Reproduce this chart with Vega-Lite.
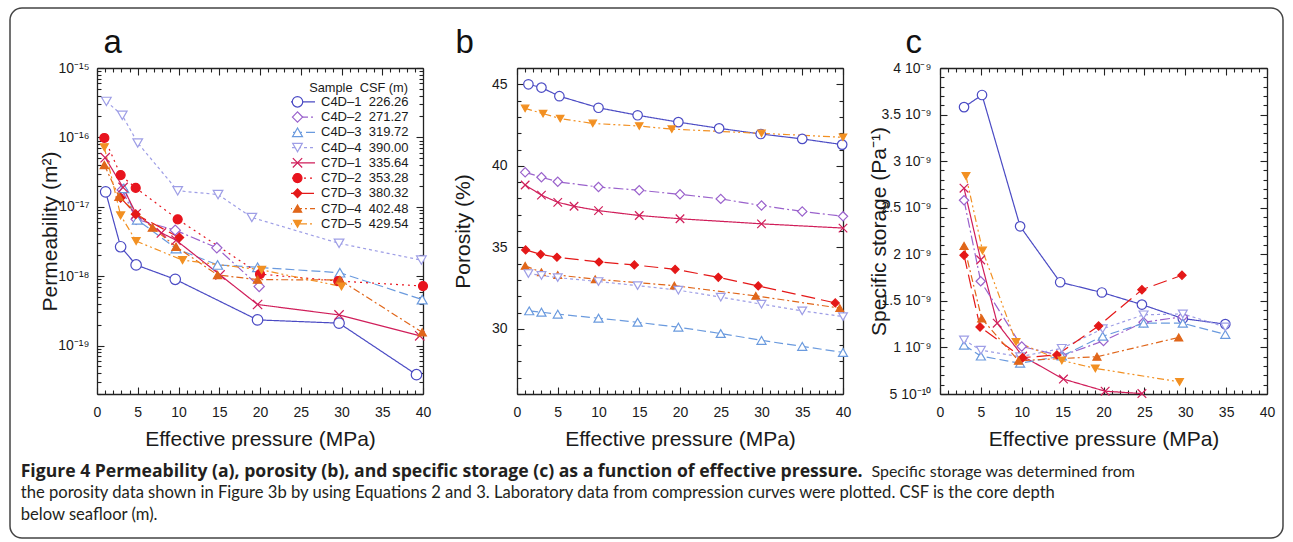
{
  "$schema": "https://vega.github.io/schema/vega-lite/v6.json",
  "width": 1273,
  "height": 530,
  "autosize": {"type": "none"},
  "padding": {"left": 10, "top": 8, "right": 10, "bottom": 4},
  "background": "white",
  "config": {
    "font": "Liberation Sans",
    "view": {"stroke": "#444", "strokeWidth": 1.5, "cornerRadius": 12},
    "axis": {"grid": false, "domainColor": "#222", "tickColor": "#222", "domainWidth": 1.3, "tickWidth": 1.1, "labelColor": "#1a1a1a", "titleColor": "#1a1a1a", "labelFontSize": 14, "titleFontSize": 21, "titleFontWeight": "normal", "labelFlush": false, "labelOverlap": false, "labelBound": false},
    "line": {"strokeWidth": 1.2},
    "point": {"strokeWidth": 1.2, "opacity": 1}
  },
  "datasets": {
    "perm": [
      {"s": "C4D-1", "p": 1.06, "v": 1.64e-17}, {"s": "C4D-1", "p": 2.9, "v": 2.65e-18}, {"s": "C4D-1", "p": 4.8, "v": 1.45e-18}, {"s": "C4D-1", "p": 9.6, "v": 9.0e-19}, {"s": "C4D-1", "p": 19.7, "v": 2.34e-19}, {"s": "C4D-1", "p": 29.7, "v": 2.1e-19}, {"s": "C4D-1", "p": 39.2, "v": 3.8e-20},
      {"s": "C4D-2", "p": 3.1, "v": 1.75e-17}, {"s": "C4D-2", "p": 4.8, "v": 6.6e-18}, {"s": "C4D-2", "p": 9.6, "v": 4.6e-18}, {"s": "C4D-2", "p": 14.7, "v": 2.56e-18}, {"s": "C4D-2", "p": 19.9, "v": 7.1e-19},
      {"s": "C4D-3", "p": 3.3, "v": 1.84e-17}, {"s": "C4D-3", "p": 4.95, "v": 6.5e-18}, {"s": "C4D-3", "p": 9.7, "v": 2.5e-18}, {"s": "C4D-3", "p": 14.8, "v": 1.45e-18}, {"s": "C4D-3", "p": 19.7, "v": 1.34e-18}, {"s": "C4D-3", "p": 29.8, "v": 1.12e-18}, {"s": "C4D-3", "p": 39.9, "v": 4.6e-19},
      {"s": "C4D-4", "p": 1.15, "v": 3.3e-16}, {"s": "C4D-4", "p": 3.1, "v": 2.08e-16}, {"s": "C4D-4", "p": 5.0, "v": 8.3e-17}, {"s": "C4D-4", "p": 9.9, "v": 1.7e-17}, {"s": "C4D-4", "p": 14.85, "v": 1.5e-17}, {"s": "C4D-4", "p": 19.0, "v": 7.0e-18}, {"s": "C4D-4", "p": 29.7, "v": 2.97e-18}, {"s": "C4D-4", "p": 39.8, "v": 1.7e-18},
      {"s": "C7D-1", "p": 1.0, "v": 5.1e-17}, {"s": "C7D-1", "p": 3.2, "v": 1.9e-17}, {"s": "C7D-1", "p": 4.8, "v": 7.9e-18}, {"s": "C7D-1", "p": 7.9, "v": 4.2e-18}, {"s": "C7D-1", "p": 9.7, "v": 3.3e-18}, {"s": "C7D-1", "p": 15.1, "v": 1.04e-18}, {"s": "C7D-1", "p": 19.7, "v": 3.9e-19}, {"s": "C7D-1", "p": 29.7, "v": 2.76e-19}, {"s": "C7D-1", "p": 39.6, "v": 1.38e-19},
      {"s": "C7D-2", "p": 0.9, "v": 9.8e-17}, {"s": "C7D-2", "p": 2.9, "v": 2.86e-17}, {"s": "C7D-2", "p": 4.75, "v": 1.87e-17}, {"s": "C7D-2", "p": 9.9, "v": 6.6e-18}, {"s": "C7D-2", "p": 20.0, "v": 1.07e-18}, {"s": "C7D-2", "p": 29.6, "v": 8.5e-19}, {"s": "C7D-2", "p": 40, "v": 7.2e-19},
      {"s": "C7D-3", "p": 2.9, "v": 1.35e-17}, {"s": "C7D-3", "p": 4.75, "v": 7.8e-18}, {"s": "C7D-3", "p": 10.1, "v": 3.6e-18},
      {"s": "C7D-4", "p": 0.9, "v": 4.0e-17}, {"s": "C7D-4", "p": 2.7, "v": 1.39e-17}, {"s": "C7D-4", "p": 6.8, "v": 5.0e-18}, {"s": "C7D-4", "p": 9.7, "v": 2.65e-18}, {"s": "C7D-4", "p": 14.8, "v": 1.04e-18}, {"s": "C7D-4", "p": 19.7, "v": 8.9e-19}, {"s": "C7D-4", "p": 29.8, "v": 8.8e-19}, {"s": "C7D-4", "p": 39.9, "v": 1.55e-19},
      {"s": "C7D-5", "p": 0.9, "v": 7.2e-17}, {"s": "C7D-5", "p": 2.9, "v": 7.5e-18}, {"s": "C7D-5", "p": 4.8, "v": 3.2e-18}, {"s": "C7D-5", "p": 10.5, "v": 1.7e-18}, {"s": "C7D-5", "p": 20.2, "v": 1.23e-18}, {"s": "C7D-5", "p": 30, "v": 7.1e-19}
    ],
    "poro": [
      {"s": "C4D-1", "p": 1.4, "v": 45.0}, {"s": "C4D-1", "p": 3.0, "v": 44.8}, {"s": "C4D-1", "p": 5.2, "v": 44.27}, {"s": "C4D-1", "p": 10, "v": 43.56}, {"s": "C4D-1", "p": 14.8, "v": 43.1}, {"s": "C4D-1", "p": 19.8, "v": 42.68}, {"s": "C4D-1", "p": 24.8, "v": 42.3}, {"s": "C4D-1", "p": 29.9, "v": 41.95}, {"s": "C4D-1", "p": 35, "v": 41.65}, {"s": "C4D-1", "p": 39.9, "v": 41.3},
      {"s": "C7D-5", "p": 1, "v": 43.52}, {"s": "C7D-5", "p": 3.2, "v": 43.2}, {"s": "C7D-5", "p": 5.3, "v": 42.9}, {"s": "C7D-5", "p": 9.3, "v": 42.6}, {"s": "C7D-5", "p": 15, "v": 42.44}, {"s": "C7D-5", "p": 19, "v": 42.25}, {"s": "C7D-5", "p": 30, "v": 41.99}, {"s": "C7D-5", "p": 40, "v": 41.75},
      {"s": "C4D-2", "p": 1, "v": 39.6}, {"s": "C4D-2", "p": 3, "v": 39.3}, {"s": "C4D-2", "p": 5, "v": 39.02}, {"s": "C4D-2", "p": 10, "v": 38.7}, {"s": "C4D-2", "p": 15, "v": 38.5}, {"s": "C4D-2", "p": 20, "v": 38.25}, {"s": "C4D-2", "p": 25, "v": 37.97}, {"s": "C4D-2", "p": 30, "v": 37.56}, {"s": "C4D-2", "p": 35, "v": 37.2}, {"s": "C4D-2", "p": 40, "v": 36.9},
      {"s": "C7D-1", "p": 1, "v": 38.82}, {"s": "C7D-1", "p": 3, "v": 38.2}, {"s": "C7D-1", "p": 5, "v": 37.76}, {"s": "C7D-1", "p": 7, "v": 37.52}, {"s": "C7D-1", "p": 10, "v": 37.25}, {"s": "C7D-1", "p": 15, "v": 36.95}, {"s": "C7D-1", "p": 20, "v": 36.75}, {"s": "C7D-1", "p": 30, "v": 36.44}, {"s": "C7D-1", "p": 40, "v": 36.18},
      {"s": "C7D-3", "p": 1.06, "v": 34.84}, {"s": "C7D-3", "p": 2.9, "v": 34.57}, {"s": "C7D-3", "p": 4.9, "v": 34.39}, {"s": "C7D-3", "p": 10.06, "v": 34.1}, {"s": "C7D-3", "p": 14.4, "v": 33.92}, {"s": "C7D-3", "p": 19.4, "v": 33.65}, {"s": "C7D-3", "p": 24.7, "v": 33.16}, {"s": "C7D-3", "p": 29.6, "v": 32.63}, {"s": "C7D-3", "p": 39.05, "v": 31.59},
      {"s": "C7D-4", "p": 1, "v": 33.86}, {"s": "C7D-4", "p": 3, "v": 33.47}, {"s": "C7D-4", "p": 5, "v": 33.3}, {"s": "C7D-4", "p": 9.6, "v": 33.04}, {"s": "C7D-4", "p": 19.3, "v": 32.65}, {"s": "C7D-4", "p": 29.3, "v": 32.02}, {"s": "C7D-4", "p": 39.6, "v": 31.27},
      {"s": "C4D-4", "p": 1.4, "v": 33.39}, {"s": "C4D-4", "p": 3, "v": 33.27}, {"s": "C4D-4", "p": 5, "v": 33.14}, {"s": "C4D-4", "p": 10, "v": 32.9}, {"s": "C4D-4", "p": 14.8, "v": 32.65}, {"s": "C4D-4", "p": 19.8, "v": 32.37}, {"s": "C4D-4", "p": 25, "v": 31.94}, {"s": "C4D-4", "p": 30, "v": 31.51}, {"s": "C4D-4", "p": 35, "v": 31.1}, {"s": "C4D-4", "p": 40, "v": 30.75},
      {"s": "C4D-3", "p": 1.5, "v": 31.1}, {"s": "C4D-3", "p": 3, "v": 31.02}, {"s": "C4D-3", "p": 5, "v": 30.9}, {"s": "C4D-3", "p": 10, "v": 30.65}, {"s": "C4D-3", "p": 14.8, "v": 30.4}, {"s": "C4D-3", "p": 19.8, "v": 30.1}, {"s": "C4D-3", "p": 25, "v": 29.71}, {"s": "C4D-3", "p": 30, "v": 29.29}, {"s": "C4D-3", "p": 35, "v": 28.92}, {"s": "C4D-3", "p": 40, "v": 28.55}
    ],
    "stor": [
      {"s": "C4D-1", "p": 2.94, "v": 3.58e-9}, {"s": "C4D-1", "p": 5.14, "v": 3.71e-9}, {"s": "C4D-1", "p": 9.8, "v": 2.30e-9}, {"s": "C4D-1", "p": 14.7, "v": 1.70e-9}, {"s": "C4D-1", "p": 19.8, "v": 1.59e-9}, {"s": "C4D-1", "p": 24.7, "v": 1.46e-9}, {"s": "C4D-1", "p": 29.7, "v": 1.31e-9}, {"s": "C4D-1", "p": 34.9, "v": 1.25e-9},
      {"s": "C7D-1", "p": 2.94, "v": 2.71e-9}, {"s": "C7D-1", "p": 4.98, "v": 1.94e-9}, {"s": "C7D-1", "p": 7.0, "v": 1.26e-9}, {"s": "C7D-1", "p": 10.1, "v": 0.907e-9}, {"s": "C7D-1", "p": 15.1, "v": 0.66e-9}, {"s": "C7D-1", "p": 20.2, "v": 0.53e-9}, {"s": "C7D-1", "p": 24.7, "v": 0.505e-9},
      {"s": "C4D-2", "p": 2.94, "v": 2.58e-9}, {"s": "C4D-2", "p": 4.98, "v": 1.71e-9}, {"s": "C4D-2", "p": 10, "v": 1.01e-9}, {"s": "C4D-2", "p": 14.9, "v": 0.91e-9}, {"s": "C4D-2", "p": 20, "v": 1.07e-9}, {"s": "C4D-2", "p": 24.9, "v": 1.27e-9}, {"s": "C4D-2", "p": 29.7, "v": 1.33e-9},
      {"s": "C4D-3", "p": 2.94, "v": 1.025e-9}, {"s": "C4D-3", "p": 5, "v": 0.907e-9}, {"s": "C4D-3", "p": 9.8, "v": 0.83e-9}, {"s": "C4D-3", "p": 14.9, "v": 0.907e-9}, {"s": "C4D-3", "p": 19.9, "v": 1.12e-9}, {"s": "C4D-3", "p": 24.9, "v": 1.26e-9}, {"s": "C4D-3", "p": 29.7, "v": 1.26e-9}, {"s": "C4D-3", "p": 34.9, "v": 1.14e-9},
      {"s": "C4D-4", "p": 2.94, "v": 1.08e-9}, {"s": "C4D-4", "p": 5, "v": 0.97e-9}, {"s": "C4D-4", "p": 9.8, "v": 0.9e-9}, {"s": "C4D-4", "p": 14.9, "v": 0.99e-9}, {"s": "C4D-4", "p": 19.9, "v": 1.2e-9}, {"s": "C4D-4", "p": 24.9, "v": 1.35e-9}, {"s": "C4D-4", "p": 29.7, "v": 1.36e-9}, {"s": "C4D-4", "p": 34.9, "v": 1.22e-9},
      {"s": "C7D-3", "p": 2.94, "v": 1.99e-9}, {"s": "C7D-3", "p": 4.9, "v": 1.22e-9}, {"s": "C7D-3", "p": 10.1, "v": 0.89e-9}, {"s": "C7D-3", "p": 14.3, "v": 0.92e-9}, {"s": "C7D-3", "p": 19.4, "v": 1.23e-9}, {"s": "C7D-3", "p": 24.7, "v": 1.62e-9}, {"s": "C7D-3", "p": 29.6, "v": 1.775e-9},
      {"s": "C7D-4", "p": 2.94, "v": 2.09e-9}, {"s": "C7D-4", "p": 5.1, "v": 1.31e-9}, {"s": "C7D-4", "p": 9.6, "v": 0.857e-9}, {"s": "C7D-4", "p": 19.2, "v": 0.9e-9}, {"s": "C7D-4", "p": 29.2, "v": 1.107e-9},
      {"s": "C7D-5", "p": 3.18, "v": 2.84e-9}, {"s": "C7D-5", "p": 5.2, "v": 2.04e-9}, {"s": "C7D-5", "p": 9.3, "v": 1.06e-9}, {"s": "C7D-5", "p": 14.9, "v": 0.86e-9}, {"s": "C7D-5", "p": 19, "v": 0.775e-9}, {"s": "C7D-5", "p": 29.3, "v": 0.63e-9}
    ],
    "caption": [
      {"part": "bold", "line": 1, "t": "Figure 4 Permeability (a), porosity (b), and specific storage (c) as a function of effective pressure."},
      {"part": "tail", "line": 1, "t": "Specific storage was determined from"},
      {"part": "body", "line": 2, "t": "the porosity data shown in Figure 3b by using Equations 2 and 3. Laboratory data from compression curves were plotted. CSF is the core depth"},
      {"part": "body", "line": 3, "t": "below seafloor (m)."}
    ]
  },
  "layer": [
    {
      "data": {"name": "perm"},
      "layer": [
        {
          "mark": {"type": "line"},
          "encoding": {
            "x": {"field": "p", "type": "quantitative", "scale": {"domain": [0, 40], "range": [87, 413], "nice": false, "zero": false},
              "axis": {"orient": "bottom", "offset": -144, "values": [0,1,2,3,4,5,6,7,8,9,10,11,12,13,14,15,16,17,18,19,20,21,22,23,24,25,26,27,28,29,30,31,32,33,34,35,36,37,38,39,40], "labelExpr": "datum.value % 5 === 0 ? datum.label : ''", "tickSize": {"condition": {"test": "datum.value % 5 === 0", "value": -7}, "value": -4}, "labelPadding": 18, "title": "Effective pressure (MPa)", "titlePadding": 6}},
            "y": {"field": "v", "type": "quantitative", "scale": {"type": "log", "domain": [2e-20, 1e-15], "range": [386, 60], "nice": false},
              "axis": {"orient": "left", "offset": -87, "values": [2e-20,3e-20,4e-20,5e-20,6e-20,7e-20,8e-20,9e-20,1e-19,2e-19,3e-19,4e-19,5e-19,6e-19,7e-19,8e-19,9e-19,1e-18,2e-18,3e-18,4e-18,5e-18,6e-18,7e-18,8e-18,9e-18,1e-17,2e-17,3e-17,4e-17,5e-17,6e-17,7e-17,8e-17,9e-17,1e-16,2e-16,3e-16,4e-16,5e-16,6e-16,7e-16,8e-16,9e-16,1e-15], "labelExpr": "abs(log(datum.value)/LN10 - round(log(datum.value)/LN10)) < 0.001 ? '10' + replace(replace(replace(replace(replace(replace(replace('' + round(log(datum.value)/LN10), '-', '⁻'), '1', '¹'), '5', '⁵'), '6', '⁶'), '7', '⁷'), '8', '⁸'), '9', '⁹') : ''", "tickSize": {"condition": {"test": "abs(log(datum.value)/LN10 - round(log(datum.value)/LN10)) < 0.001", "value": -7}, "value": -4}, "labelPadding": 15, "title": "Permeability (m²)", "titlePadding": -3}},
            "color": {"field": "s", "type": "nominal", "scale": {"range": ["#4b4bc4","#9a62cc","#6a9ade","#9e9ee6","#d01e5a","#e8141e","#e41818","#e0661a","#f29022"]},
              "legend": {"orient": "none", "legendX": 281, "legendY": 74, "title": " ", "titleFontSize": 12.8, "titleFontWeight": "normal", "titleAnchor": "end", "titlePadding": 0, "labelFontSize": 13, "labelExpr": "' '", "labelOffset": 17, "rowPadding": 1.25, "clipHeight": 14, "symbolType": "M-3.5,0L3.5,0", "symbolSize": 100, "symbolStrokeWidth": 1.2}},
            "strokeDash": {"field": "s", "type": "nominal", "scale": {"range": [[1,0],[10,3,2,3],[9,4],[3,3],[1,0],[2,4],[14,6],[7,3,2,3],[7,3,2,3,2,3]]},
              "legend": {"orient": "none", "legendX": 281, "legendY": 74, "title": " ", "titleFontSize": 12.8, "titleFontWeight": "normal", "titleAnchor": "end", "titlePadding": 0, "labelFontSize": 13, "labelExpr": "' '", "labelOffset": 17, "rowPadding": 1.25, "clipHeight": 14, "symbolType": "M-3.5,0L3.5,0", "symbolSize": 100, "symbolStrokeWidth": 1.2}}
          }
        },
        {
          "mark": {"type": "point"},
          "encoding": {
            "x": {"field": "p", "type": "quantitative", "axis": {"orient": "top", "offset": -60, "values": [0,1,2,3,4,5,6,7,8,9,10,11,12,13,14,15,16,17,18,19,20,21,22,23,24,25,26,27,28,29,30,31,32,33,34,35,36,37,38,39,40], "labels": false, "tickSize": {"condition": {"test": "datum.value % 5 === 0", "value": -7}, "value": -4}, "title": "a", "titleFontSize": 33, "titleAnchor": "start", "titleAlign": "left", "titleBaseline": "alphabetic", "titleX": 93, "titleY": -16, "titleColor": "#111"}},
            "y": {"field": "v", "type": "quantitative", "axis": {"orient": "right", "offset": -860, "values": [2e-20,3e-20,4e-20,5e-20,6e-20,7e-20,8e-20,9e-20,1e-19,2e-19,3e-19,4e-19,5e-19,6e-19,7e-19,8e-19,9e-19,1e-18,2e-18,3e-18,4e-18,5e-18,6e-18,7e-18,8e-18,9e-18,1e-17,2e-17,3e-17,4e-17,5e-17,6e-17,7e-17,8e-17,9e-17,1e-16,2e-16,3e-16,4e-16,5e-16,6e-16,7e-16,8e-16,9e-16,1e-15], "labels": false, "tickSize": {"condition": {"test": "abs(log(datum.value)/LN10 - round(log(datum.value)/LN10)) < 0.001", "value": -7}, "value": -4}, "title": null}},
            "stroke": {"field": "s", "type": "nominal", "scale": {"domain": ["C4D-1","C4D-2","C4D-3","C4D-4","C7D-1","C7D-2","C7D-3","C7D-4","C7D-5"], "range": ["#4b4bc4","#9a62cc","#6a9ade","#9e9ee6","#d01e5a","#e8141e","#e41818","#e0661a","#f29022"]},
              "legend": {"orient": "none", "legendX": 281, "legendY": 74, "title": "Sample\u00a0 CSF (m)", "titleColor": "#1a1a1a", "titleFontSize": 12.8, "titleFontWeight": "normal", "titleAnchor": "end", "titlePadding": 0, "labelFontSize": 13, "labelColor": "#1a1a1a", "labelOffset": 17, "rowPadding": 1.25, "clipHeight": 14, "symbolStrokeWidth": 1.2, "labelExpr": "replace(datum.label,'-','–') + '\u00a0 ' + (datum.label=='C4D-1'?'226.26':datum.label=='C4D-2'?'271.27':datum.label=='C4D-3'?'319.72':datum.label=='C4D-4'?'390.00':datum.label=='C7D-1'?'335.64':datum.label=='C7D-2'?'353.28':datum.label=='C7D-3'?'380.32':datum.label=='C7D-4'?'402.48':'429.54')"}},
            "fill": {"field": "s", "type": "nominal", "scale": {"domain": ["C4D-1","C4D-2","C4D-3","C4D-4","C7D-1","C7D-2","C7D-3","C7D-4","C7D-5"], "range": ["white","white","white","white","transparent","#e8141e","#e41818","#e0661a","#f29022"]},
              "legend": {"orient": "none", "legendX": 281, "legendY": 74, "title": "Sample\u00a0 CSF (m)", "titleColor": "#1a1a1a", "titleFontSize": 12.8, "titleFontWeight": "normal", "titleAnchor": "end", "titlePadding": 0, "labelFontSize": 13, "labelColor": "#1a1a1a", "labelOffset": 17, "rowPadding": 1.25, "clipHeight": 14, "symbolStrokeWidth": 1.2, "labelExpr": "replace(datum.label,'-','–') + '\u00a0 ' + (datum.label=='C4D-1'?'226.26':datum.label=='C4D-2'?'271.27':datum.label=='C4D-3'?'319.72':datum.label=='C4D-4'?'390.00':datum.label=='C7D-1'?'335.64':datum.label=='C7D-2'?'353.28':datum.label=='C7D-3'?'380.32':datum.label=='C7D-4'?'402.48':'429.54')"}},
            "shape": {"field": "s", "type": "nominal", "scale": {"domain": ["C4D-1","C4D-2","C4D-3","C4D-4","C7D-1","C7D-2","C7D-3","C7D-4","C7D-5"], "range": ["circle","diamond","triangle-up","triangle-down","M-1,-1L1,1M-1,1L1,-1","circle","diamond","triangle-up","triangle-down"]},
              "legend": {"orient": "none", "legendX": 281, "legendY": 74, "title": "Sample\u00a0 CSF (m)", "titleColor": "#1a1a1a", "titleFontSize": 12.8, "titleFontWeight": "normal", "titleAnchor": "end", "titlePadding": 0, "labelFontSize": 13, "labelColor": "#1a1a1a", "labelOffset": 17, "rowPadding": 1.25, "clipHeight": 14, "symbolStrokeWidth": 1.2, "labelExpr": "replace(datum.label,'-','–') + '\u00a0 ' + (datum.label=='C4D-1'?'226.26':datum.label=='C4D-2'?'271.27':datum.label=='C4D-3'?'319.72':datum.label=='C4D-4'?'390.00':datum.label=='C7D-1'?'335.64':datum.label=='C7D-2'?'353.28':datum.label=='C7D-3'?'380.32':datum.label=='C7D-4'?'402.48':'429.54')"}},
            "size": {"field": "s", "type": "nominal", "scale": {"domain": ["C4D-1","C4D-2","C4D-3","C4D-4","C7D-1","C7D-2","C7D-3","C7D-4","C7D-5"], "range": [110, 64, 70, 70, 64, 56, 30, 56, 56]},
              "legend": {"orient": "none", "legendX": 281, "legendY": 74, "title": "Sample\u00a0 CSF (m)", "titleColor": "#1a1a1a", "titleFontSize": 12.8, "titleFontWeight": "normal", "titleAnchor": "end", "titlePadding": 0, "labelFontSize": 13, "labelColor": "#1a1a1a", "labelOffset": 17, "rowPadding": 1.25, "clipHeight": 14, "symbolStrokeWidth": 1.2, "labelExpr": "replace(datum.label,'-','–') + '\u00a0 ' + (datum.label=='C4D-1'?'226.26':datum.label=='C4D-2'?'271.27':datum.label=='C4D-3'?'319.72':datum.label=='C4D-4'?'390.00':datum.label=='C7D-1'?'335.64':datum.label=='C7D-2'?'353.28':datum.label=='C7D-3'?'380.32':datum.label=='C7D-4'?'402.48':'429.54')"}}
          }
        }
      ],
      "resolve": {"axis": {"x": "independent", "y": "independent"}}
    },
    {
      "data": {"name": "poro"},
      "layer": [
        {
          "mark": {"type": "line"},
          "encoding": {
            "x": {"field": "p", "type": "quantitative", "scale": {"domain": [0, 40], "range": [507, 833], "nice": false, "zero": false},
              "axis": {"orient": "bottom", "offset": -144, "values": [0,1,2,3,4,5,6,7,8,9,10,11,12,13,14,15,16,17,18,19,20,21,22,23,24,25,26,27,28,29,30,31,32,33,34,35,36,37,38,39,40], "labelExpr": "datum.value % 5 === 0 ? datum.label : ''", "tickSize": {"condition": {"test": "datum.value % 5 === 0", "value": -7}, "value": -4}, "labelPadding": 18, "title": "Effective pressure (MPa)", "titlePadding": 6}},
            "y": {"field": "v", "type": "quantitative", "scale": {"domain": [26, 46], "range": [386, 60], "nice": false, "zero": false},
              "axis": {"orient": "left", "offset": -507, "values": [26,27,28,29,30,31,32,33,34,35,36,37,38,39,40,41,42,43,44,45,46], "labelExpr": "datum.value % 5 === 0 ? datum.label : ''", "tickSize": {"condition": {"test": "datum.value % 5 === 0", "value": -7}, "value": -4}, "labelPadding": 17, "title": "Porosity (%)", "titlePadding": 18}},
            "color": {"field": "s", "type": "nominal", "scale": {"domain": ["C4D-1","C4D-2","C4D-3","C4D-4","C7D-1","C7D-2","C7D-3","C7D-4","C7D-5"], "range": ["#4b4bc4","#9a62cc","#6a9ade","#9e9ee6","#d01e5a","#e8141e","#e41818","#e0661a","#f29022"]}, "legend": null},
            "strokeDash": {"field": "s", "type": "nominal", "scale": {"domain": ["C4D-1","C4D-2","C4D-3","C4D-4","C7D-1","C7D-2","C7D-3","C7D-4","C7D-5"], "range": [[1,0],[10,3,2,3],[9,4],[3,3],[1,0],[2,4],[14,6],[7,3,2,3],[7,3,2,3,2,3]]}, "legend": null}
          }
        },
        {
          "mark": {"type": "point"},
          "encoding": {
            "x": {"field": "p", "type": "quantitative", "axis": {"orient": "top", "offset": -60, "values": [0,1,2,3,4,5,6,7,8,9,10,11,12,13,14,15,16,17,18,19,20,21,22,23,24,25,26,27,28,29,30,31,32,33,34,35,36,37,38,39,40], "labels": false, "tickSize": {"condition": {"test": "datum.value % 5 === 0", "value": -7}, "value": -4}, "title": "b", "titleFontSize": 33, "titleAnchor": "start", "titleAlign": "left", "titleBaseline": "alphabetic", "titleX": 445, "titleY": -16, "titleColor": "#111"}},
            "y": {"field": "v", "type": "quantitative", "axis": {"orient": "right", "offset": -440, "values": [26,27,28,29,30,31,32,33,34,35,36,37,38,39,40,41,42,43,44,45,46], "labels": false, "tickSize": {"condition": {"test": "datum.value % 5 === 0", "value": -7}, "value": -4}, "title": null}},
            "stroke": {"field": "s", "type": "nominal", "scale": {"domain": ["C4D-1","C4D-2","C4D-3","C4D-4","C7D-1","C7D-2","C7D-3","C7D-4","C7D-5"], "range": ["#4b4bc4","#9a62cc","#6a9ade","#9e9ee6","#d01e5a","#e8141e","#e41818","#e0661a","#f29022"]}, "legend": null},
            "fill": {"field": "s", "type": "nominal", "scale": {"domain": ["C4D-1","C4D-2","C4D-3","C4D-4","C7D-1","C7D-2","C7D-3","C7D-4","C7D-5"], "range": ["white","white","white","white","transparent","#e8141e","#e41818","#e0661a","#f29022"]}, "legend": null},
            "shape": {"field": "s", "type": "nominal", "scale": {"domain": ["C4D-1","C4D-2","C4D-3","C4D-4","C7D-1","C7D-2","C7D-3","C7D-4","C7D-5"], "range": ["circle","diamond","triangle-up","triangle-down","M-1,-1L1,1M-1,1L1,-1","circle","diamond","triangle-up","triangle-down"]}, "legend": null},
            "size": {"field": "s", "type": "nominal", "scale": {"domain": ["C4D-1","C4D-2","C4D-3","C4D-4","C7D-1","C7D-2","C7D-3","C7D-4","C7D-5"], "range": [90, 55, 60, 60, 75, 40, 25, 45, 45]}, "legend": null}
          }
        }
      ],
      "resolve": {"axis": {"x": "independent", "y": "independent"}}
    },
    {
      "data": {"name": "stor"},
      "layer": [
        {
          "mark": {"type": "line"},
          "encoding": {
            "x": {"field": "p", "type": "quantitative", "scale": {"domain": [0, 40], "range": [930, 1257], "nice": false, "zero": false},
              "axis": {"orient": "bottom", "offset": -144, "values": [0,1,2,3,4,5,6,7,8,9,10,11,12,13,14,15,16,17,18,19,20,21,22,23,24,25,26,27,28,29,30,31,32,33,34,35,36,37,38,39,40], "labelExpr": "datum.value % 5 === 0 ? datum.label : ''", "tickSize": {"condition": {"test": "datum.value % 5 === 0", "value": -7}, "value": -4}, "labelPadding": 18, "title": "Effective pressure (MPa)", "titlePadding": 6}},
            "y": {"field": "v", "type": "quantitative", "scale": {"domain": [5e-10, 4e-9], "range": [386, 60], "nice": false, "zero": false},
              "axis": {"orient": "left", "offset": -930, "values": [5e-10,6e-10,7e-10,8e-10,9e-10,1e-9,1.1e-9,1.2e-9,1.3e-9,1.4e-9,1.5e-9,1.6e-9,1.7e-9,1.8e-9,1.9e-9,2e-9,2.1e-9,2.2e-9,2.3e-9,2.4e-9,2.5e-9,2.6e-9,2.7e-9,2.8e-9,2.9e-9,3e-9,3.1e-9,3.2e-9,3.3e-9,3.4e-9,3.5e-9,3.6e-9,3.7e-9,3.8e-9,3.9e-9,4e-9], "labelExpr": "abs(datum.value*2e9 - round(datum.value*2e9)) < 0.01 ? (datum.value < 6e-10 ? '5 10⁻¹⁰' : format(datum.value*1e9, '.1~f') + ' 10⁻⁹') : ''", "tickSize": {"condition": {"test": "abs(datum.value*2e9 - round(datum.value*2e9)) < 0.01", "value": -7}, "value": -4}, "labelPadding": 16, "title": "Specific storage (Pa⁻¹)", "titlePadding": -8}},
            "color": {"field": "s", "type": "nominal", "scale": {"domain": ["C4D-1","C4D-2","C4D-3","C4D-4","C7D-1","C7D-2","C7D-3","C7D-4","C7D-5"], "range": ["#4b4bc4","#9a62cc","#6a9ade","#9e9ee6","#d01e5a","#e8141e","#e41818","#e0661a","#f29022"]}, "legend": null},
            "strokeDash": {"field": "s", "type": "nominal", "scale": {"domain": ["C4D-1","C4D-2","C4D-3","C4D-4","C7D-1","C7D-2","C7D-3","C7D-4","C7D-5"], "range": [[1,0],[10,3,2,3],[9,4],[3,3],[1,0],[2,4],[14,6],[7,3,2,3],[7,3,2,3,2,3]]}, "legend": null}
          }
        },
        {
          "mark": {"type": "point"},
          "encoding": {
            "x": {"field": "p", "type": "quantitative", "axis": {"orient": "top", "offset": -60, "values": [0,1,2,3,4,5,6,7,8,9,10,11,12,13,14,15,16,17,18,19,20,21,22,23,24,25,26,27,28,29,30,31,32,33,34,35,36,37,38,39,40], "labels": false, "tickSize": {"condition": {"test": "datum.value % 5 === 0", "value": -7}, "value": -4}, "title": "c", "titleFontSize": 33, "titleAnchor": "start", "titleAlign": "left", "titleBaseline": "alphabetic", "titleX": 895, "titleY": -16, "titleColor": "#111"}},
            "y": {"field": "v", "type": "quantitative", "axis": {"orient": "right", "offset": -16, "values": [5e-10,6e-10,7e-10,8e-10,9e-10,1e-9,1.1e-9,1.2e-9,1.3e-9,1.4e-9,1.5e-9,1.6e-9,1.7e-9,1.8e-9,1.9e-9,2e-9,2.1e-9,2.2e-9,2.3e-9,2.4e-9,2.5e-9,2.6e-9,2.7e-9,2.8e-9,2.9e-9,3e-9,3.1e-9,3.2e-9,3.3e-9,3.4e-9,3.5e-9,3.6e-9,3.7e-9,3.8e-9,3.9e-9,4e-9], "labels": false, "tickSize": {"condition": {"test": "abs(datum.value*2e9 - round(datum.value*2e9)) < 0.01", "value": -7}, "value": -4}, "title": null}},
            "stroke": {"field": "s", "type": "nominal", "scale": {"domain": ["C4D-1","C4D-2","C4D-3","C4D-4","C7D-1","C7D-2","C7D-3","C7D-4","C7D-5"], "range": ["#4b4bc4","#9a62cc","#6a9ade","#9e9ee6","#d01e5a","#e8141e","#e41818","#e0661a","#f29022"]}, "legend": null},
            "fill": {"field": "s", "type": "nominal", "scale": {"domain": ["C4D-1","C4D-2","C4D-3","C4D-4","C7D-1","C7D-2","C7D-3","C7D-4","C7D-5"], "range": ["white","white","white","white","transparent","#e8141e","#e41818","#e0661a","#f29022"]}, "legend": null},
            "shape": {"field": "s", "type": "nominal", "scale": {"domain": ["C4D-1","C4D-2","C4D-3","C4D-4","C7D-1","C7D-2","C7D-3","C7D-4","C7D-5"], "range": ["circle","diamond","triangle-up","triangle-down","M-1,-1L1,1M-1,1L1,-1","circle","diamond","triangle-up","triangle-down"]}, "legend": null},
            "size": {"field": "s", "type": "nominal", "scale": {"domain": ["C4D-1","C4D-2","C4D-3","C4D-4","C7D-1","C7D-2","C7D-3","C7D-4","C7D-5"], "range": [90, 60, 70, 70, 64, 50, 30, 50, 50]}, "legend": null}
          }
        }
      ],
      "resolve": {"axis": {"x": "independent", "y": "independent"}}
    },
    {
      "data": {"name": "caption"},
      "layer": [
        {
          "transform": [{"filter": "datum.part === 'bold'"}],
          "mark": {"type": "text", "align": "left", "baseline": "middle", "font": "Open Sans", "fontSize": 17.6, "fontWeight": "bold", "color": "#231f20"},
          "encoding": {
            "x": {"datum": 0, "type": "quantitative", "scale": {"domain": [0, 1], "range": [10.7, 1125], "nice": false, "zero": false}, "axis": null},
            "y": {"field": "line", "type": "quantitative", "scale": {"domain": [1, 3], "range": [463.7, 507], "nice": false, "zero": false}, "axis": null},
            "text": {"field": "t"}
          }
        },
        {
          "transform": [{"filter": "datum.part === 'body'"}],
          "mark": {"type": "text", "align": "left", "baseline": "middle", "font": "Lato", "fontSize": 16.6, "color": "#231f20"},
          "encoding": {
            "x": {"datum": 0, "type": "quantitative", "axis": null},
            "y": {"field": "line", "type": "quantitative", "axis": null},
            "text": {"field": "t"}
          }
        },
        {
          "transform": [{"filter": "datum.part === 'tail'"}],
          "mark": {"type": "text", "align": "right", "baseline": "middle", "font": "Lato", "fontSize": 16.0, "color": "#231f20"},
          "encoding": {
            "x": {"datum": 1, "type": "quantitative", "axis": null},
            "y": {"field": "line", "type": "quantitative", "axis": null},
            "text": {"field": "t"}
          }
        }
      ]
    }
  ],
  "resolve": {
    "scale": {"x": "independent", "y": "independent", "color": "independent", "stroke": "independent", "fill": "independent", "shape": "independent", "size": "independent", "strokeDash": "independent"},
    "axis": {"x": "independent", "y": "independent"},
    "legend": {"color": "independent", "stroke": "independent", "fill": "independent", "shape": "independent", "size": "independent", "strokeDash": "independent"}
  }
}
